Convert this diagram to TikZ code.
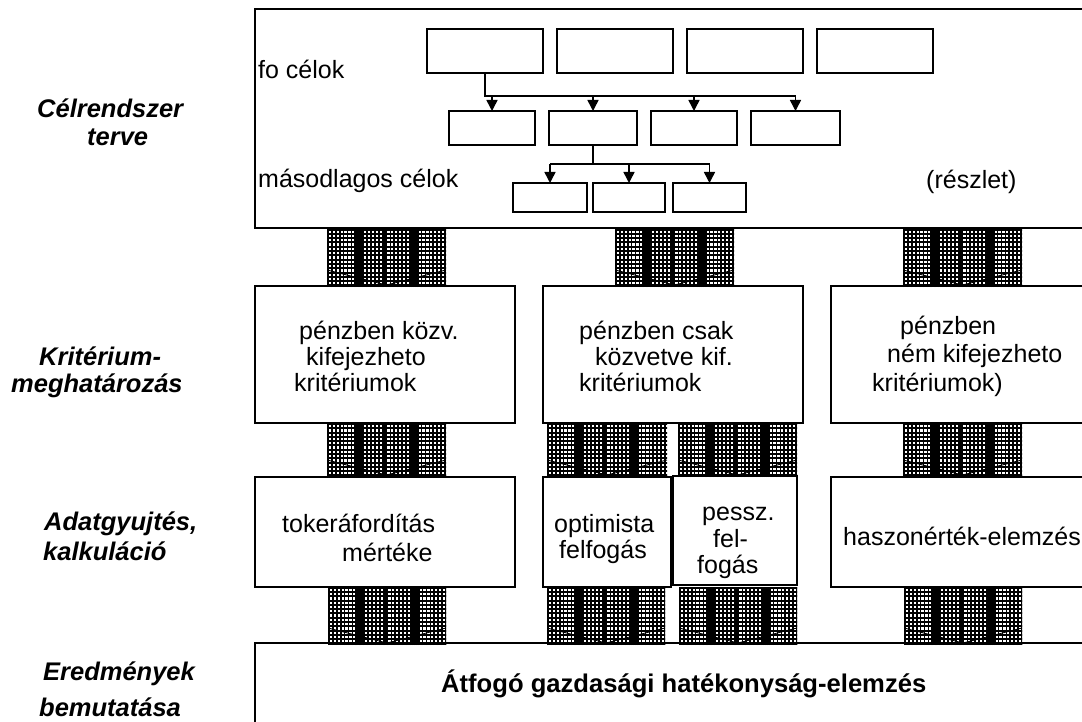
\documentclass[tikz,border=0pt]{standalone}
\usepackage{fontspec}
\setmainfont{Liberation Sans}
\usetikzlibrary{arrows.meta}
\begin{document}
\begin{tikzpicture}[x=1pt,y=-1pt,
  box/.style={draw, line width=1.3pt, inner sep=0pt, outer sep=0pt, anchor=north west},
  txt/.style={inner sep=0pt, anchor=base west, font=\fontsize{25}{28}\selectfont},
  lbl/.style={inner sep=0pt, anchor=base west, font=\fontsize{25.5}{28}\selectfont\bfseries\itshape},
  big/.style={inner sep=0pt, anchor=base west, font=\fontsize{25.6}{28}\selectfont\bfseries},
  conn/.style={line width=1.5pt},
  arr/.style={line width=1.5pt, -{Triangle[width=11pt,length=11pt]}},
  hatchblk/.style={inner sep=0pt, outer sep=0pt, anchor=north west, fill=white,
    path picture={
      \coordinate (hsw) at (path picture bounding box.south west);
      \foreach \k in {0,...,32} {\draw[line width=1.7pt] ([shift={(\k*3.9pt+1pt,0pt)}]hsw) -- ++(0pt,70pt);}
      \foreach \k in {0,...,16} {\draw[line width=2.0pt] ([shift={(0pt,\k*4.3pt+1.5pt)}]hsw) -- ++(140pt,0pt);}
      \foreach \f in {30pt,34pt,58pt,86pt,90pt} {\draw[line width=3.2pt] ([shift={(\f,0pt)}]hsw) -- ++(0pt,70pt);}
      \draw[line width=3.5pt] ([shift={(0pt,1.6pt)}]hsw) -- ++(140pt,0pt);
      \draw[line width=0.9pt] ([shift={(0pt,17pt)}]hsw) -- ([shift={(0pt,2pt)}]path picture bounding box.south) -- ([shift={(0pt,17pt)}]path picture bounding box.south east);
    }}
]
\useasboundingbox (0,0) rectangle (1082,722);
\fill[white] (0,0) rectangle (1082,722);

% left labels
\node[lbl] (l1a) at (37,118) {Célrendszer};
\node[lbl] (l1b) at (87,146) {terve};
\node[lbl] (l2a) at (39,365) {Kritérium-};
\begin{scope}
  \clip (0,360) rectangle (180,405);
  \node[lbl] (l2b) at (11,392) {meghatározás};
\end{scope}
\node[lbl] (l3a) at (44,530) {Adatgyujtés,};
\node[lbl] (l3b) at (43,560) {kalkuláció};
\node[lbl] (l4a) at (43,680) {Eredmények};
\node[lbl] (l4b) at (39,716) {bemutatása};

% goal system frame
\node[box, minimum width=850pt, minimum height=219pt] (goals) at (255,9) {};
\node[txt] (fo) at (258,79) {fo célok};
\node[txt] (maso) at (258,188) {másodlagos célok};
\node[txt] (reszlet) at (926,189) {(részlet)};

\node[box, minimum width=116pt, minimum height=44pt] (f1) at (427,29) {};
\node[box, minimum width=116pt, minimum height=44pt] (f2) at (557,29) {};
\node[box, minimum width=116pt, minimum height=44pt] (f3) at (687,29) {};
\node[box, minimum width=116pt, minimum height=44pt] (f4) at (817,29) {};

\node[box, minimum width=86pt, minimum height=34pt] (s1) at (449,111) {};
\node[box, minimum width=88pt, minimum height=34pt] (s2) at (549,111) {};
\node[box, minimum width=86pt, minimum height=34pt] (s3) at (651,111) {};
\node[box, minimum width=89pt, minimum height=34pt] (s4) at (751,111) {};

\node[box, minimum width=74pt, minimum height=29pt] (t1) at (513,183) {};
\node[box, minimum width=72pt, minimum height=29pt] (t2) at (593,183) {};
\node[box, minimum width=73pt, minimum height=29pt] (t3) at (673,183) {};

\coordinate (bus1) at (0,96);
\coordinate (bus2) at (0,164);
\draw[conn] (f1.south) -- (f1.south |- bus1) -- (s4.north |- bus1);
\foreach \n in {s1,s2,s3,s4} {\draw[arr] (\n.north |- bus1) -- (\n.north);}
\draw[conn] (s2.south) -- (s2.south |- bus2);
\draw[conn] (t1.north |- bus2) -- (t3.north |- bus2);
\foreach \n in {t1,t2,t3} {\draw[arr] (\n.north |- bus2) -- (\n.north);}

% criteria row
\node[box, minimum width=260pt, minimum height=137pt] (k1) at (255,286) {};
\node[box, minimum width=260pt, minimum height=137pt] (k2) at (543,286) {};
\node[box, minimum width=270pt, minimum height=137pt] (k3) at (831,286) {};
\node[txt] (k1a) at (299,339) {pénzben közv.};
\node[txt] (k1b) at (306,365) {kifejezheto};
\node[txt] (k1c) at (294,391) {kritériumok};
\node[txt] (k2a) at (579,339) {pénzben csak};
\node[txt] (k2b) at (595,365) {közvetve kif.};
\node[txt] (k2c) at (579,391) {kritériumok};
\node[txt] (k3a) at (900,334) {pénzben};
\node[txt] (k3b) at (887,362) {ném kifejezheto};
\node[txt] (k3c) at (872,391) {kritériumok)};

% data row
\node[box, minimum width=260pt, minimum height=110pt] (a1) at (255,477) {};
\node[box, minimum width=128pt, minimum height=110pt] (a2) at (543,477) {};
\node[box, minimum width=124pt, minimum height=109pt] (a3) at (673,476) {};
\node[box, minimum width=270pt, minimum height=110pt] (a4) at (831,477) {};
\node[txt] (a1a) at (282,532) {tokeráfordítás};
\node[txt] (a1b) at (342,561) {mértéke};
\node[txt] (a2a) at (554,532) {optimista};
\node[txt] (a2b) at (559,558) {felfogás};
\node[txt] (a3a) at (702,520) {pessz.};
\node[txt] (a3b) at (713,547) {fel-};
\node[txt] (a3c) at (697,573) {fogás};
\node[txt] (a4a) at (843,545) {haszonérték-elemzés};

% result box
\node[box, minimum width=850pt, minimum height=130pt] (res) at (255,643) {};
\node[big] (resa) at (441,692) {Átfogó gazdasági hatékonyság-elemzés};

% hatched block arrows
\node[hatchblk, minimum width=119pt, minimum height=58pt] (h1) at (327,229) {};
\node[hatchblk, minimum width=119pt, minimum height=58pt] (h2) at (615,229) {};
\node[hatchblk, minimum width=119pt, minimum height=58pt] (h3) at (903,229) {};
\node[hatchblk, minimum width=119pt, minimum height=54pt] (h4) at (327,423) {};
\node[hatchblk, minimum width=120pt, minimum height=54pt] (h5) at (547,423) {};
\node[hatchblk, minimum width=119pt, minimum height=54pt] (h6) at (678,423) {};
\node[hatchblk, minimum width=119pt, minimum height=54pt] (h7) at (903,423) {};
\node[hatchblk, minimum width=118pt, minimum height=58pt] (h8) at (328,587) {};
\node[hatchblk, minimum width=118pt, minimum height=58pt] (h9) at (547,587) {};
\node[hatchblk, minimum width=118pt, minimum height=58pt] (h10) at (679,587) {};
\node[hatchblk, minimum width=118pt, minimum height=58pt] (h11) at (904,587) {};
\end{tikzpicture}
\end{document}
